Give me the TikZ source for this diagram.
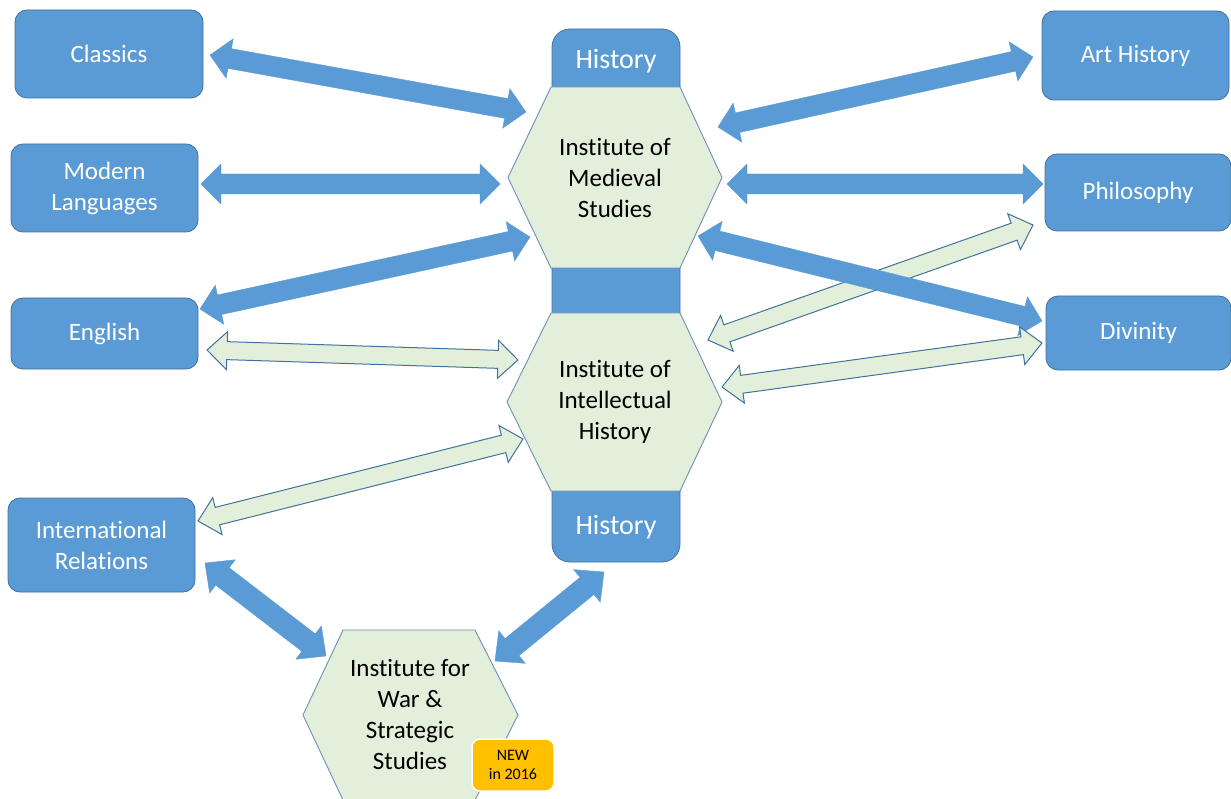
\documentclass[tikz,border=0pt]{standalone}
\usepackage{fontspec}
\setmainfont{Carlito}[Ligatures=NoCommon]
\usetikzlibrary{calc}
\definecolor{boxblue}{HTML}{5B9BD5}
\definecolor{boxedge}{HTML}{41719C}
\definecolor{hexfill}{HTML}{E2EFDA}
\definecolor{hexedge}{HTML}{6D8FB5}
\definecolor{newfill}{HTML}{FFC000}
\newcommand\fatarrow[6]{%
  \path let \p1=(#2), \p2=(#3), \n1={atan2(\y2-\y1,\x2-\x1)}, \n2={veclen(\x2-\x1,\y2-\y1)} in
    \pgfextra{\xdef\faang{\n1}\xdef\falen{\n2}\xdef\fax{\x1}\xdef\fay{\y1}};
  \path[#1, shift={(\fax,\fay)}, rotate=\faang]
    (0pt,0pt) -- (#6,#5) -- (#6,#4) -- ({\falen-#6},#4) -- ({\falen-#6},#5) -- (\falen,0pt)
    -- ({\falen-#6},-#5) -- ({\falen-#6},-#4) -- (#6,-#4) -- (#6,-#5) -- cycle;
}
\tikzset{
  unit/.style={rectangle, rounded corners=12pt, fill=boxblue, draw=boxedge, line width=0.8pt,
    text=white, font=\fontsize{25}{31}\selectfont, align=center, inner sep=0pt},
  histcol/.style={rectangle, rounded corners=18pt, fill=boxblue, draw=boxedge, line width=0.8pt,
    minimum width=128pt, minimum height=533pt, inner sep=0pt},
  histlabel/.style={text=white, font=\fontsize{28}{32}\selectfont, inner sep=0pt},
  hex/.style={fill=hexfill, draw=hexedge, line width=0.9pt},
  hextext/.style={text=black, font=\fontsize{25}{31}\selectfont, align=center, inner sep=0pt},
  bluearrow/.style={fill=boxblue, draw=boxblue, line width=0.4pt},
  greenarrow/.style={fill=hexfill, draw=boxedge, line width=1pt},
  badge/.style={rectangle, rounded corners=8pt, fill=newfill, draw=white, line width=1.5pt,
    minimum width=82pt, minimum height=52pt, align=center, inner sep=0pt,
    font=\fontsize{16}{19}\selectfont}
}
\begin{document}
\begin{tikzpicture}[x=1pt,y=-1pt]
\useasboundingbox (0,0) rectangle (1231,799);
% left units
\node[unit, minimum width=188pt, minimum height=88pt] (classics) at (109,54) {Classics};
\node[unit, minimum width=187pt, minimum height=88pt] (modlang) at (104.5,188) {Modern\\Languages};
\node[unit, minimum width=187pt, minimum height=71pt] (english) at (104.5,333.5) {English};
\node[unit, minimum width=187pt, minimum height=94pt] (intrel) at (101.5,545) {International\\Relations};
% right units
\node[unit, minimum width=187pt, minimum height=89pt] (arthist) at (1135.5,55.5) {Art History};
\node[unit, minimum width=186pt, minimum height=77pt] (philos) at (1138,192.5) {Philosophy};
\node[unit, minimum width=185pt, minimum height=74pt] (divinity) at (1138.5,333) {Divinity};
% History column
\node[histcol] (history) at (616,295.5) {};
\node[histlabel] (histtop) at (616,61) {History};
\node[histlabel] (histbot) at (616,527) {History};
% hexagons
\path[hex] (508,177.5) -- (551,87) -- (680,87) -- (722,177.5) -- (680,268) -- (551,268) -- cycle;
\node[hextext] (medieval) at (615,178) {Institute of\\Medieval\\Studies};
\path[hex] (507,402) -- (551,313) -- (680,313) -- (722,402) -- (680,491) -- (551,491) -- cycle;
\node[hextext] (intellect) at (615,402) {Institute of\\Intellectual\\History};
\path[hex] (303,715) -- (343,630) -- (475,630) -- (518,715) -- (475,800) -- (343,800) -- cycle;
\node[hextext] (war) at (410,714) {Institute for\\War \&\\Strategic\\Studies};
% arrow end points
\coordinate (cA) at (210,55);   \coordinate (mA) at (526,112);
\coordinate (mlA) at (201,184); \coordinate (mB) at (500,184);
\coordinate (enA) at (200,309); \coordinate (mC) at (530,237);
\coordinate (ahA) at (1033,57); \coordinate (mD) at (718,127);
\coordinate (phA) at (1043,184); \coordinate (mE) at (727,184);
\coordinate (dvA) at (1042,321); \coordinate (mF) at (698,236);
\coordinate (irA) at (205,563); \coordinate (wA) at (326,656);
\coordinate (hbA) at (604,572); \coordinate (wB) at (495,661);
\coordinate (enB) at (207,350); \coordinate (iA) at (518,360);
\coordinate (irB) at (198,521); \coordinate (iB) at (523,439);
\coordinate (phB) at (1033,225); \coordinate (iC) at (708,340);
\coordinate (dvB) at (1042,343); \coordinate (iD) at (722,387);
% green arrows
\fatarrow{greenarrow}{enB}{iA}{9pt}{19pt}{20pt}
\fatarrow{greenarrow}{irB}{iB}{9pt}{19pt}{20pt}
\fatarrow{greenarrow}{iC}{phB}{9pt}{19pt}{20pt}
% blue arrows
\fatarrow{bluearrow}{cA}{mA}{10pt}{20pt}{20pt}
\fatarrow{bluearrow}{mlA}{mB}{10pt}{20pt}{20pt}
\fatarrow{bluearrow}{enA}{mC}{10pt}{20pt}{20pt}
\fatarrow{bluearrow}{mD}{ahA}{10pt}{20pt}{20pt}
\fatarrow{bluearrow}{mE}{phA}{10pt}{20pt}{20pt}
\fatarrow{bluearrow}{mF}{dvA}{10pt}{20pt}{20pt}
\fatarrow{bluearrow}{irA}{wA}{11pt}{21pt}{22pt}
\fatarrow{bluearrow}{wB}{hbA}{11pt}{21pt}{22pt}
\fatarrow{greenarrow}{iD}{dvB}{9pt}{19pt}{20pt}
% badge
\node[badge] (new) at (513,765) {NEW\\in 2016};
\end{tikzpicture}
\end{document}
